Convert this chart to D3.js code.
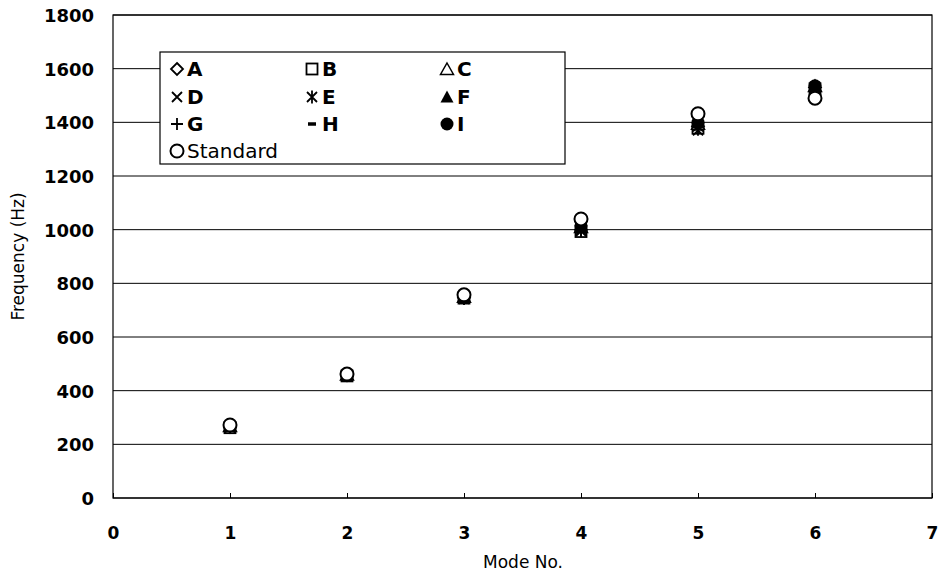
<!DOCTYPE html>
<html><head><meta charset="utf-8">
<script src="https://cdn.jsdelivr.net/npm/d3@7"></script>
<style>body{margin:0;background:#fff}svg{display:block}text{font-family:"DejaVu Sans",Verdana,sans-serif;fill:#000}</style>
</head><body><svg id="c" width="938" height="574"></svg>
<script>
const modes = [1, 2, 3, 4, 5, 6];
const seriesNames = ["A", "B", "C", "D", "E", "F", "G", "H", "I", "Standard"];
const valA = [265, 458, 748, 1000, 1385, 1530];
const valB = [262, 455, 745, 993, 1378, 1525];
const valC = [268, 460, 750, 1010, 1395, 1535];
const valD = [262, 455, 742, 995, 1370, 1528];
const valE = [265, 458, 745, 1000, 1385, 1532];
const valF = [266, 460, 750, 1012, 1398, 1535];
const valG = [262, 455, 742, 995, 1372, 1525];
const valH = [264, 458, 746, 1002, 1388, 1530];
const valI = [270, 461, 754, 1015, 1400, 1536];
const valStd = [272, 462, 757, 1040, 1432, 1490];
const xTicks = [0, 1, 2, 3, 4, 5, 6, 7];
const yTicks = [0, 200, 400, 600, 800, 1000, 1200, 1400, 1600, 1800];
const allVals = [valA, valB, valC, valD, valE, valF, valG, valH, valI, valStd];

const svg = d3.select("#c");
const L = 113, R = 932, T = 15, B = 498;
const x = d3.scaleLinear().domain([0, 7]).range([L, R]);
const y = d3.scaleLinear().domain([0, 1800]).range([B, T]);

// gridlines
svg.append("g").selectAll("line").data(yTicks).join("line")
  .attr("x1", L).attr("x2", R).attr("y1", d => y(d)).attr("y2", d => y(d))
  .attr("stroke", "#000").attr("stroke-width", 1);
svg.append("rect").attr("x", L).attr("y", T).attr("width", R - L).attr("height", B - T)
  .attr("fill", "none").attr("stroke", "#000").attr("stroke-width", 1.2);

// axes
const xa = svg.append("g").attr("transform", `translate(0,${B})`)
  .call(d3.axisBottom(x).tickValues(xTicks).tickSize(-5).tickPadding(29).tickFormat(d3.format("d")));
const ya = svg.append("g").attr("transform", `translate(${L},0)`)
  .call(d3.axisLeft(y).tickValues(yTicks).tickSize(0).tickPadding(19).tickFormat(d3.format("d")));
[xa, ya].forEach(a => {
  a.select(".domain").remove();
  a.selectAll("line").attr("stroke", "#000");
  a.selectAll("text").attr("font-size", 18).attr("font-weight", "bold")
    .attr("font-family", "DejaVu Sans, Verdana, sans-serif");
});
xa.selectAll("text").attr("font-size", 17);
ya.selectAll("text").attr("dy", "0.36em");

svg.append("text").attr("x", 523).attr("y", 568).attr("text-anchor", "middle")
  .attr("font-size", 17).text("Mode No.");
svg.append("text").attr("transform", `translate(24,${(T + B) / 2}) rotate(-90)`)
  .attr("text-anchor", "middle").attr("font-size", 17).text("Frequency (Hz)");

// markers
function marker(g, i) {
  const s = "#000";
  switch (i) {
    case 0: g.append("path").attr("d", "M0,-6L6,0L0,6L-6,0Z").attr("fill", "#fff").attr("stroke", s).attr("stroke-width", 1.8); break;
    case 1: g.append("rect").attr("x", -5.5).attr("y", -5.5).attr("width", 11).attr("height", 11).attr("fill", "#fff").attr("stroke", s).attr("stroke-width", 1.8); break;
    case 2: g.append("path").attr("d", "M0,-6L6.5,5.5L-6.5,5.5Z").attr("fill", "#fff").attr("stroke", s).attr("stroke-width", 1.5); break;
    case 3: g.append("path").attr("d", "M-5,-5L5,5M-5,5L5,-5").attr("stroke", s).attr("stroke-width", 1.8); break;
    case 4: g.append("path").attr("d", "M-5,-5L5,5M-5,5L5,-5M0,-6.5L0,6.5").attr("stroke", s).attr("stroke-width", 1.8); break;
    case 5: g.append("path").attr("d", "M0,-6.5L6.5,5.5L-6.5,5.5Z").attr("fill", s); break;
    case 6: g.append("path").attr("d", "M-6,0L6,0M0,-6L0,6").attr("stroke", s).attr("stroke-width", 1.8); break;
    case 7: g.append("path").attr("d", "M-4,0L4,0").attr("stroke", s).attr("stroke-width", 3.5); break;
    case 8: g.append("circle").attr("r", 6.5).attr("fill", s); break;
    case 9: g.append("circle").attr("r", 6.5).attr("fill", "#fff").attr("stroke", s).attr("stroke-width", 2); break;
  }
}

allVals.forEach((vals, si) => {
  const g = svg.append("g");
  g.selectAll("g").data(modes.map((m, k) => [m, vals[k]])).join("g")
    .attr("transform", d => `translate(${x(d[0])},${y(d[1])})`)
    .each(function() { marker(d3.select(this), si); });
});

// legend
const lg = svg.append("g");
lg.append("rect").attr("x", 160).attr("y", 52).attr("width", 405).attr("height", 112)
  .attr("fill", "#fff").attr("stroke", "#000").attr("stroke-width", 1.2);
const colX = [177, 312, 447], rowY = [69, 97, 124, 151];
seriesNames.forEach((n, i) => {
  const cx = colX[i % 3], cy = rowY[Math.floor(i / 3)];
  const g = lg.append("g").attr("transform", `translate(${cx},${cy})`);
  marker(g, i);
  g.append("text").attr("x", 10).attr("dy", "0.37em").attr("font-size", 20)
    .attr("font-weight", n === "Standard" ? "normal" : "bold").text(n);
});
</script></body></html>
